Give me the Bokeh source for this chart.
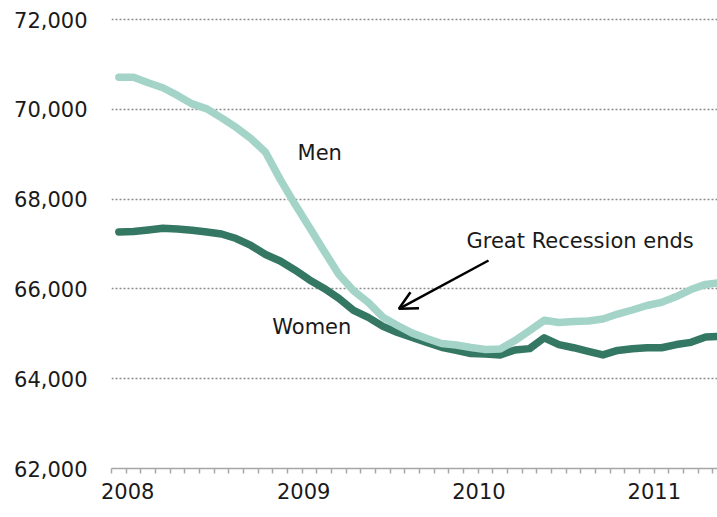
from bokeh.plotting import figure
from bokeh.models import Range1d, FixedTicker, NumeralTickFormatter, Arrow, OpenHead, Label
from bokeh.embed import file_html
from bokeh.resources import INLINE

# Monthly index: 0 = Jan 2008 ... 41 = Jun 2011
months = list(range(42))
men = [70715, 70715, 70590, 70480, 70310, 70120, 70010, 69810, 69595, 69350,
       69045, 68440, 67890, 67370, 66840, 66320, 65960, 65700, 65370, 65185,
       65015, 64895, 64785, 64750, 64695, 64650, 64660, 64850, 65070, 65300,
       65250, 65275, 65285, 65330, 65440, 65530, 65630, 65700, 65830, 65985,
       66100, 66140]
women = [67270, 67278, 67311, 67350, 67334, 67305, 67267, 67223, 67122, 66967,
         66767, 66622, 66422, 66200, 66010, 65790, 65520, 65365, 65165, 65030,
         64920, 64810, 64700, 64630, 64560, 64550, 64530, 64640, 64670, 64910,
         64760, 64690, 64610, 64530, 64630, 64665, 64690, 64690, 64760, 64810,
         64930, 64940]
year_labels = ["2008", "2009", "2010", "2011"]
year_label_pos = [0.6, 12.6, 24.55, 36.5]
y_ticks = [62000, 64000, 66000, 68000, 70000, 72000]

FONT = "DejaVu Sans"
FS = "21px"
TXT = "#1a1a1a"

p = figure(width=717, height=517, output_backend="svg", toolbar_location=None,
           x_range=Range1d(-0.5, 40.81), y_range=Range1d(62000, 72156),
           min_border_left=111, min_border_right=0, min_border_top=12,
           min_border_bottom=49)
p.outline_line_color = None
p.background_fill_color = "white"
p.border_fill_color = "white"

# y axis
p.yaxis.ticker = FixedTicker(ticks=y_ticks)
p.yaxis.formatter = NumeralTickFormatter(format="0,0")
p.yaxis.axis_line_color = None
p.yaxis.major_tick_line_color = None
p.yaxis.minor_tick_line_color = None
p.yaxis.major_label_standoff = 18
p.yaxis.major_label_text_font = FONT
p.yaxis.major_label_text_font_size = FS
p.yaxis.major_label_text_color = TXT

# x axis
p.xaxis.ticker = FixedTicker(ticks=year_label_pos,
                             minor_ticks=[m - 0.5 for m in range(43)])
p.xaxis.major_label_overrides = {t: l for t, l in zip(year_label_pos, year_labels)}
p.xaxis.axis_line_color = "#a6a6a6"
p.xaxis.axis_line_width = 1.5
p.xaxis.major_tick_line_color = None
p.xaxis.major_tick_out = 0
p.xaxis.major_tick_in = 0
p.xaxis.minor_tick_line_color = "#a6a6a6"
p.xaxis.minor_tick_line_width = 1.5
p.xaxis.minor_tick_out = 5
p.xaxis.minor_tick_in = 0
p.xaxis.major_label_standoff = 9
p.xaxis.major_label_text_font = FONT
p.xaxis.major_label_text_font_size = FS
p.xaxis.major_label_text_color = TXT

# grids
p.xgrid.grid_line_color = None
p.ygrid.ticker = FixedTicker(ticks=y_ticks[1:])
p.ygrid.grid_line_color = "#8c8c8c"
p.ygrid.grid_line_dash = "2 2"
p.ygrid.grid_line_width = 1.4

# lines
p.line(months, women, line_width=7.5, line_color="#347763",
       line_join="round", line_cap="round")
p.line(months, men, line_width=7.5, line_color="#A3D4C7",
       line_join="round", line_cap="round")

# annotations
p.add_layout(Label(x=12.18, y=69016, text="Men", text_font=FONT,
                   text_font_size=FS, text_color=TXT, text_baseline="middle"))
p.add_layout(Label(x=10.46, y=65150, text="Women", text_font=FONT,
                   text_font_size=FS, text_color=TXT, text_baseline="middle"))
p.add_layout(Label(x=23.7, y=67056, text="Great Recession ends", text_font=FONT,
                   text_font_size=FS, text_color=TXT, text_baseline="middle"))
p.add_layout(Arrow(end=OpenHead(size=18, line_width=2.5, line_color="black"),
                   x_start=25.2, y_start=66633, x_end=19.09, y_end=65557,
                   line_width=2.5, line_color="black"))

open("out.html", "w").write(file_html(p, INLINE))
